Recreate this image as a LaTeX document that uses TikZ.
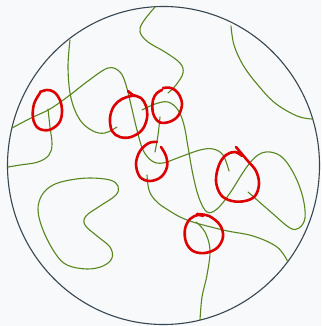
\documentclass[tikz,border=0pt]{standalone}
\begin{document}
\begin{tikzpicture}[x=1pt,y=-1pt,
  strand/.style={draw=strandgreen,line width=1.1pt,line cap=round},
  loopmark/.style={draw=markred,line width=2.6pt,line cap=round,line join=round},
  rim/.style={draw=rimgray,line width=1.1pt}]
\definecolor{strandgreen}{RGB}{88,134,30}
\definecolor{markred}{RGB}{220,0,0}
\definecolor{rimgray}{RGB}{55,70,80}
\definecolor{bgc}{RGB}{248,249,250}
\fill[bgc] (0,0) rectangle (321,326);
\useasboundingbox (0,0) rectangle (321,326);
\draw[rim] (163.5,165.5) ellipse [x radius=156, y radius=159];
% green strands
\draw[strand] plot[smooth,tension=0.6] coordinates {(12,128) (31,118) (50,109) (70,95) (88,81) (108,68) (120,72) (126,85) (131,105) (137,130) (143,150) (152,161) (163,163) (180,157) (200,150) (213,149) (223,155) (229,171)};
\draw[strand] plot[smooth,tension=0.6] coordinates {(155,7) (143,22) (140,32) (148,42) (165,52) (180,63) (183,73) (176,85) (168,93)};
\draw[strand] plot[smooth,tension=0.6] coordinates {(160,117) (158,135) (155,152)};
\draw[strand] plot[smooth,tension=0.6] coordinates {(147,175) (149,190) (155,200) (165,208) (187,220) (223,230) (253,236) (277,247) (288,262)};
\draw[strand] plot[smooth,tension=0.6] coordinates {(142,110) (155,104) (168,102) (178,110) (184,125) (188,147) (193,175) (199,198) (207,212) (217,209) (230,193) (246,168) (258,155) (270,152) (283,158) (295,176) (303,198) (305,218) (299,228) (290,228) (272,213) (248,192)};
\draw[strand] plot[smooth,tension=0.6] coordinates {(70,40) (68,68) (71,98) (80,120) (93,131) (105,133) (117,127)};
\draw[strand] plot[smooth,tension=0.6] coordinates {(48,109) (50,127) (52,144) (49,155) (38,162) (20,165) (8,167)};
\draw[strand] plot[smooth,tension=0.6] coordinates {(231,26) (234,45) (243,65) (257,84) (275,103) (297,116) (312,119)};
\draw[strand] plot[smooth cycle,tension=0.6] coordinates {(90,178) (110,180) (118,186) (116,195) (100,206) (86,216) (85,225) (97,236) (110,247) (112,258) (103,266) (87,269) (67,265) (55,253) (43,230) (38,210) (42,195) (53,185) (70,180)};
\draw[strand] plot[smooth,tension=0.6] coordinates {(196,222) (205,232) (210,250) (207,275) (202,297) (200,320)};
% red loops
\draw[loopmark] plot[smooth,tension=0.6] coordinates {(40,92) (47,90) (54,92) (60,100) (62,112) (59,123) (49,130) (38,128) (33,118) (34,104) (40,93)};
\draw[loopmark] plot[smooth,tension=0.6] coordinates {(128,91) (133,95) (141,98) (146,106) (147,118) (142,130) (131,137) (120,137) (112,131) (110,118) (114,106) (122,99) (131,96) (136,96)};
\draw[loopmark] plot[smooth,tension=0.6] coordinates {(163,88) (171,88) (178,93) (182,104) (178,116) (169,122) (159,122) (153,113) (153,100) (157,93) (162,90)};
\draw[loopmark] plot[smooth,tension=0.6] coordinates {(161,147) (166,156) (167,167) (161,177) (150,181) (140,177) (136,164) (140,151) (149,143) (157,142)};
\draw[loopmark] plot[smooth,tension=0.6] coordinates {(236,147) (247,160) (256,171) (259,184) (255,196) (245,201) (232,201) (221,195) (216,181) (219,165) (226,155) (235,152) (242,156)};
\draw[loopmark] plot[smooth,tension=0.6] coordinates {(197,214) (209,216) (220,225) (223,237) (217,248) (205,253) (193,251) (186,242) (185,229) (190,219) (198,215) (203,216)};
\end{tikzpicture}
\end{document}
